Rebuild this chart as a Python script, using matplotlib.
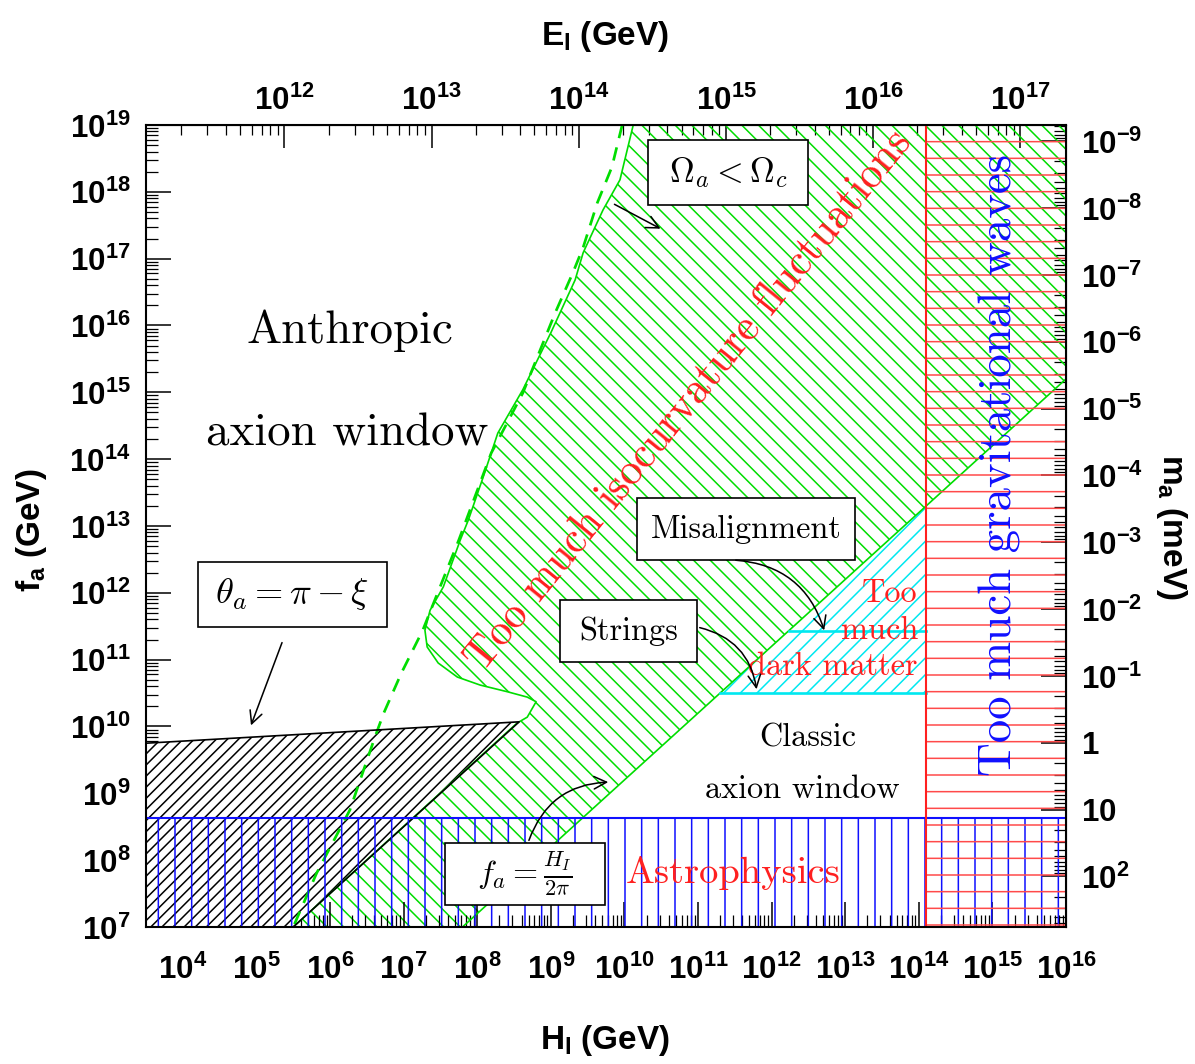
import numpy as np
import matplotlib
matplotlib.use("Agg")
import matplotlib.pyplot as plt
from matplotlib.patches import Rectangle
from matplotlib.ticker import LogLocator, FixedLocator, FuncFormatter, NullFormatter

plt.rcParams['mathtext.fontset'] = 'custom'
plt.rcParams['mathtext.rm'] = 'Liberation Sans:bold'
plt.rcParams['mathtext.it'] = 'Liberation Sans:bold'
plt.rcParams['mathtext.bf'] = 'Liberation Sans:bold'
plt.rcParams['hatch.linewidth'] = 1.1

# ---- datos (log10 de H_I y f_a en GeV) ----
H_LIM = (3.5, 16.0)
F_LIM = (7.0, 19.0)

# exponentes de las marcas de cada eje
h_tick_exp = list(range(4, 17))
f_tick_exp = list(range(7, 20))
e_tick_exp = list(range(12, 18))
m_tick_exp = list(range(-9, 3))

# borde de isocurvatura (verde continuo)
iso_logH = [10.12, 9.94, 9.71, 9.44, 9.33, 9.00, 8.62, 8.28, 8.09, 7.88, 7.77, 7.54, 7.36,
            7.29, 7.32, 7.47, 7.73, 8.04, 8.41, 8.68, 8.80, 8.68, 8.54, 5.50]
iso_logf = [19.0, 18.18, 17.73, 17.09, 16.68, 15.89, 15.04, 14.39, 13.76, 13.09, 12.79, 12.09, 11.74,
            11.44, 11.19, 10.95, 10.74, 10.62, 10.52, 10.44, 10.37, 10.14, 10.05, 7.0]
# f_a = H_I / 2pi
pq_logH = [7.8, 16.0]
pq_logf = [7.0, 15.2]
# Omega_a < Omega_c (verde discontinuo)
omega_logH = [9.97, 9.83, 9.63, 9.44, 9.30, 9.06, 8.62, 8.19, 7.75, 7.26, 6.97, 6.73, 6.61, 6.27, 5.82, 5.50]
omega_logf = [19.0, 18.37, 17.83, 17.17, 16.79, 16.19, 14.99, 14.09, 12.79, 11.44, 10.80, 10.20, 9.84, 8.75, 7.81, 7.0]
# ventana antropica theta_a = pi - xi
anth_logH = [3.5, 8.57, 5.50, 3.5]
anth_logf = [9.75, 10.07, 7.0, 7.0]
astro_logf = 8.63      # astrofisica: f_a por debajo
gw_logH = 14.1         # ondas gravitacionales: H_I por encima
dm_misalign_logf = 10.50
dm_strings_logf = 11.43

M_EFF = 10**18.62      # H_I = E_I^2 / M_EFF
MA_CONST = 5.7e9       # m_a [meV] = MA_CONST / f_a [GeV]

GREEN = '#00dd00'
CYAN = '#00e8f0'
BLUE = '#1010ff'
RED = '#ff2020'
RED_H = '#ff4a4a'

W, Hfig = 1195, 1064
DPI = 100
AX_L, AX_R, AX_T, AX_B = 146, 1066, 125, 927


def pw(a):
    return 10.0**np.asarray(a, dtype=float)


def fx(px):
    return (px - AX_L) / (AX_R - AX_L)


def fy(py):
    return (AX_B - py) / (AX_B - AX_T)


def pow_label(v, pos):
    return r'$10^{%d}$' % int(round(np.log10(v)))


def mass_label(v, pos):
    e = int(round(np.log10(v)))
    if e == 0:
        return r'$1$'
    if e == 1:
        return r'$10$'
    return r'$10^{%d}$' % e


def h2e(h):
    return np.sqrt(np.abs(h) * M_EFF)


def e2h(e):
    return np.asarray(e)**2 / M_EFF


def f2m(f):
    with np.errstate(divide='ignore'):
        return MA_CONST / np.asarray(f)


def m2f(m):
    with np.errstate(divide='ignore'):
        return MA_CONST / np.asarray(m)


def setup_axis(axis, exps, fmt):
    axis.set_major_locator(FixedLocator(pw(exps)))
    axis.set_minor_locator(LogLocator(base=10, subs=np.arange(2, 10), numticks=40))
    axis.set_major_formatter(FuncFormatter(fmt))
    axis.set_minor_formatter(NullFormatter())


fig = plt.figure(figsize=(W/DPI, Hfig/DPI), dpi=DPI)
ax = fig.add_axes([AX_L/W, 1 - AX_B/Hfig, (AX_R - AX_L)/W, (AX_B - AX_T)/Hfig])
ax.set_xscale('log')
ax.set_yscale('log')
ax.set_xlim(pw(H_LIM[0]), pw(H_LIM[1]))
ax.set_ylim(pw(F_LIM[0]), pw(F_LIM[1]))

# region verde (isocurvatura)
gx = iso_logH + pq_logH + [H_LIM[1]]
gy = iso_logf + pq_logf + [F_LIM[1]]
ax.fill(pw(gx), pw(gy), facecolor='none', edgecolor=GREEN, hatch='\\\\', lw=0, zorder=1)
ax.plot(pw(iso_logH), pw(iso_logf), color=GREEN, lw=1.2, zorder=3)
ax.plot(pw(pq_logH), pw(pq_logf), color=GREEN, lw=1.2, zorder=3)
ax.plot(pw(omega_logH), pw(omega_logf), color=GREEN, lw=1.95, dashes=(5, 3.5), zorder=3)

# demasiada materia oscura (cian)
x_mis = np.interp(dm_misalign_logf, pq_logf, pq_logH)
x_str = np.interp(dm_strings_logf, pq_logf, pq_logH)
y_top = np.interp(gw_logH, pq_logH, pq_logf)
ax.fill(pw([x_mis, gw_logH, gw_logH]), pw([dm_misalign_logf, dm_misalign_logf, y_top]),
        facecolor='white', edgecolor=CYAN, hatch='//', lw=0, zorder=2)
ax.plot(pw([x_mis, gw_logH]), pw([dm_misalign_logf] * 2), color=CYAN, lw=1.9, zorder=3)
ax.plot(pw([x_str, gw_logH]), pw([dm_strings_logf] * 2), color=CYAN, lw=1.9, zorder=3)

# ventana antropica (negro)
ax.fill(pw(anth_logH), pw(anth_logf), facecolor='white', edgecolor='black', hatch='///', lw=0, zorder=2)
ax.plot(pw(anth_logH[:3]), pw(anth_logf[:3]), color='black', lw=1.2, zorder=3)

# astrofisica (azul) y ondas gravitacionales (rojo)
ax.axhspan(pw(F_LIM[0]), pw(astro_logf), facecolor='none', edgecolor=BLUE, hatch='|', lw=0, zorder=4)
ax.axhline(pw(astro_logf), color=BLUE, lw=1.5, zorder=4)
ax.axvspan(pw(gw_logH), pw(H_LIM[1]), facecolor='none', edgecolor=RED_H, hatch='-', lw=0, zorder=4)
ax.axvline(pw(gw_logH), color=RED, lw=1.5, zorder=4)

# ejes
tick_kw = dict(direction='in', width=1.1, labelsize=22.5)
ax.tick_params(which='major', length=18, **tick_kw)
ax.tick_params(axis='x', which='major', pad=19.5)
ax.tick_params(axis='y', which='major', pad=11)
ax.tick_params(which='minor', length=8.3, direction='in', width=0.9)
ax.tick_params(top=False, right=False, which='both')
setup_axis(ax.xaxis, h_tick_exp, pow_label)
setup_axis(ax.yaxis, f_tick_exp, pow_label)
for s in ax.spines.values():
    s.set_linewidth(1.5)
    s.set_zorder(10)

top = ax.secondary_xaxis('top', functions=(h2e, e2h))
setup_axis(top.xaxis, e_tick_exp, pow_label)
top.tick_params(which='major', length=16.5, pad=6.8, **tick_kw)
top.tick_params(which='minor', length=7.5, direction='in', width=0.9)

right = ax.secondary_yaxis('right', functions=(f2m, m2f))
setup_axis(right.yaxis, m_tick_exp, mass_label)
right.tick_params(which='major', length=18, pad=11, **tick_kw)
right.tick_params(which='minor', length=8.3, direction='in', width=0.9)

# titulos de ejes
lab_kw = dict(fontsize=24, fontfamily='Liberation Sans', fontweight='bold', ha='center', va='center')
fig.text(605/W, 1 - 1040/Hfig, r'$H_I$ (GeV)', **lab_kw)
fig.text(605/W, 1 - 37/Hfig, r'$E_I$ (GeV)', **lab_kw)
fig.text(32/W, 1 - 530/Hfig, r'$f_a$ (GeV)', rotation=90, **lab_kw)
fig.text(1172/W, 1 - 527/Hfig, r'$m_a$ (meV)', rotation=270, **lab_kw)

# textos
serif = dict(fontfamily='cmr10', transform=ax.transAxes, ha='center', va='center', zorder=12)
ax.text(0.2217, 0.744, 'Anthropic', fontsize=33.75, **serif)
ax.text(0.2185, 0.6147, 'axion window', fontsize=33.75, **serif)
ax.text(0.7196, 0.2357, 'Classic', fontsize=23.25, **serif)
ax.text(0.713, 0.172, 'axion window', fontsize=23.25, **serif)
ax.text(0.638, 0.0673, 'Astrophysics', fontsize=27.75, color=RED, **serif)
ax.text(0.59, 0.657, 'Too much isocurvature fluctuations', fontsize=31.5, color=RED,
        rotation=51, rotation_mode='anchor', **serif)
ax.text(0.928, 0.576, 'Too much gravitational waves', fontsize=33.75, color=BLUE,
        rotation=90, **serif)
ax.text(0.839, 0.3703, 'Too\nmuch\ndark matter', fontsize=23.25, color=RED, linespacing=1.32,
        multialignment='right', fontfamily='cmr10', transform=ax.transAxes, ha='right',
        va='center', zorder=12)

# recuadros (x0, x1, y0, y1 en pixeles)
boxes = [
    ((198, 387, 562, 627), r'$\theta_a = \pi - \xi$', 26.25, True),
    ((648, 808, 140, 205), r'$\Omega_a < \Omega_c$', 24.75, True),
    ((637, 855, 498, 560), 'Misalignment', 23.25, False),
    ((560, 697, 600, 662), 'Strings', 23.25, False),
    ((445, 605, 843, 905), r'$f_a = \frac{H_I}{2\pi}$', 23.25, True),
]
for (x0, x1, y0, y1), txt, size, is_math in boxes:
    ax.add_patch(Rectangle((fx(x0), fy(y1)), fx(x1) - fx(x0), fy(y0) - fy(y1),
                           transform=ax.transAxes, facecolor='white', edgecolor='black',
                           lw=1.2, zorder=11))
    cx, cy = fx((x0 + x1) / 2), fy((y0 + y1) / 2)
    if is_math:
        ax.text(cx, cy, txt, fontsize=size, transform=ax.transAxes, ha='center', va='center',
                zorder=12, math_fontfamily='cm')
    else:
        ax.text(cx, cy, txt, fontsize=size, **serif)

arr = dict(arrowstyle='->', lw=1.12, color='black', mutation_scale=22.5)
ax.annotate('', xy=(fx(250), fy(728)), xytext=(fx(283), fy(640)), xycoords='axes fraction',
            arrowprops=arr, zorder=12)
ax.annotate('', xy=(fx(663), fy(230)), xytext=(fx(612), fy(203)), xycoords='axes fraction',
            arrowprops=arr, zorder=12)
ax.annotate('', xy=(fx(825), fy(633)), xytext=(fx(733), fy(560)), xycoords='axes fraction',
            arrowprops=dict(arr, connectionstyle='arc3,rad=-0.35'), zorder=12)
ax.annotate('', xy=(fx(757), fy(692)), xytext=(fx(697), fy(627)), xycoords='axes fraction',
            arrowprops=dict(arr, connectionstyle='arc3,rad=-0.35'), zorder=12)
ax.annotate('', xy=(fx(611), fy(782)), xytext=(fx(528), fy(843)), xycoords='axes fraction',
            arrowprops=dict(arr, connectionstyle='arc3,rad=-0.35'), zorder=12)

fig.savefig('out.png', dpi=DPI)
